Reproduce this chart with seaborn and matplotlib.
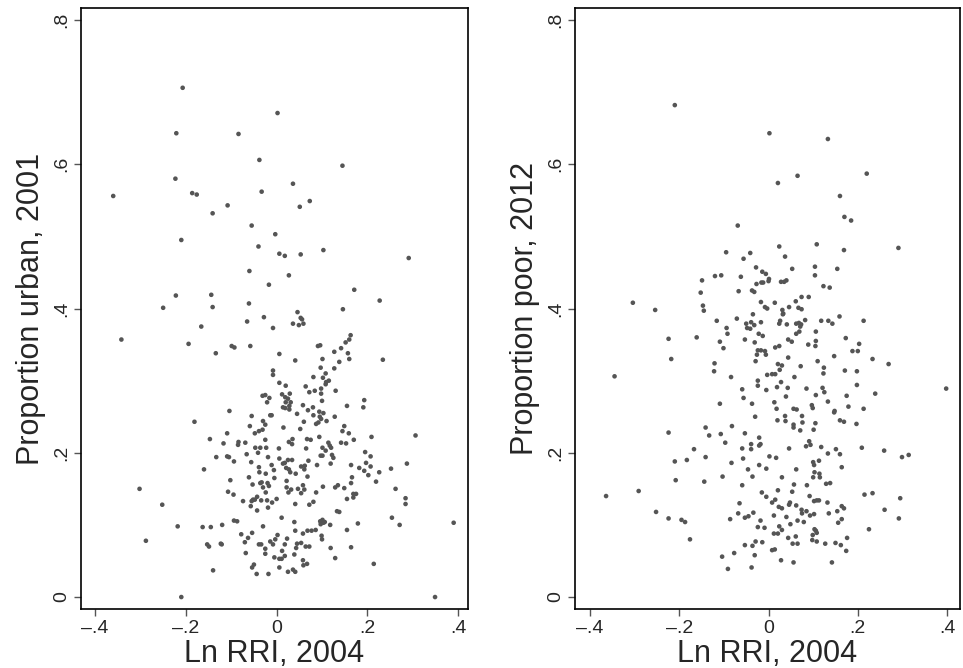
import matplotlib
matplotlib.use('Agg')
import matplotlib.pyplot as plt
import seaborn as sns
import pandas as pd

# (Ln RRI 2004, proportion urban 2001)
urban_pts = [
    (-0.207, 0.706), (0.002, 0.671), (-0.221, 0.643), (-0.084, 0.642), (-0.038, 0.606), (-0.223, 0.580),
    (-0.360, 0.556), (-0.186, 0.560), (-0.176, 0.558), (-0.033, 0.562), (-0.108, 0.543), (-0.141, 0.532),
    (-0.055, 0.515), (-0.003, 0.503), (-0.210, 0.495), (-0.040, 0.486), (0.006, 0.476), (-0.060, 0.452),
    (-0.017, 0.433), (-0.222, 0.418), (-0.144, 0.419), (-0.250, 0.401), (-0.141, 0.402), (-0.061, 0.407),
    (-0.028, 0.388), (-0.065, 0.382), (-0.008, 0.373), (-0.166, 0.375), (-0.342, 0.357),
    (0.145, 0.598), (0.036, 0.573), (0.073, 0.549), (0.051, 0.541), (0.018, 0.473), (0.053, 0.475),
    (0.103, 0.481), (0.291, 0.470), (0.027, 0.446), (0.171, 0.426), (0.227, 0.411), (0.146, 0.399),
    (0.046, 0.395), (0.053, 0.387), (0.056, 0.385), (0.036, 0.379), (0.049, 0.377), (0.059, 0.379),
    (0.163, 0.363), (0.160, 0.357),
    (-0.194, 0.351), (-0.134, 0.338), (-0.099, 0.348), (-0.093, 0.346), (-0.058, 0.348), (0.006, 0.337),
    (-0.008, 0.314), (-0.008, 0.308), (0.006, 0.297), (-0.031, 0.279), (-0.025, 0.280), (-0.016, 0.276),
    (-0.021, 0.270), (-0.104, 0.258), (-0.181, 0.243), (-0.055, 0.251), (-0.014, 0.252), (-0.011, 0.252),
    (-0.030, 0.244), (-0.025, 0.239), (-0.059, 0.237), (-0.039, 0.230), (-0.031, 0.232), (-0.048, 0.227),
    (-0.025, 0.218), (-0.147, 0.219), (-0.109, 0.227), (-0.117, 0.213), (-0.084, 0.215), (-0.085, 0.211),
    (-0.069, 0.214), (-0.047, 0.207), (-0.036, 0.207), (-0.023, 0.207), (0.005, 0.206), (-0.133, 0.194),
    (-0.109, 0.195), (-0.105, 0.194), (-0.094, 0.188), (-0.066, 0.198), (-0.041, 0.200), (-0.019, 0.194),
    (0.006, 0.192), (-0.056, 0.187), (-0.160, 0.177), (-0.039, 0.180), (-0.038, 0.173), (-0.011, 0.183),
    (-0.006, 0.176), (-0.024, 0.171), (-0.005, 0.165), (-0.061, 0.166), (-0.102, 0.162), (-0.053, 0.156),
    (-0.036, 0.158), (-0.033, 0.159), (-0.030, 0.152), (-0.020, 0.158), (-0.017, 0.154), (-0.302, 0.150),
    (-0.107, 0.146), (-0.095, 0.142), (-0.024, 0.145), (-0.252, 0.128), (-0.074, 0.133), (-0.055, 0.133),
    (-0.052, 0.135), (-0.048, 0.135), (-0.057, 0.126), (-0.043, 0.139), (-0.034, 0.134), (-0.021, 0.134),
    (-0.010, 0.131), (0.000, 0.136), (-0.019, 0.124), (-0.043, 0.120), (-0.218, 0.098), (-0.163, 0.097),
    (-0.145, 0.097), (-0.120, 0.100), (-0.094, 0.106), (-0.087, 0.105), (-0.030, 0.098), (-0.078, 0.087),
    (-0.054, 0.089), (-0.063, 0.082), (-0.070, 0.076), (0.002, 0.086), (-0.003, 0.080), (-0.288, 0.078),
    (-0.153, 0.073), (-0.149, 0.070), (-0.123, 0.074), (-0.121, 0.073), (-0.039, 0.073), (-0.034, 0.073),
    (-0.014, 0.077), (-0.008, 0.073), (-0.025, 0.067), (-0.025, 0.060), (-0.068, 0.061), (-0.005, 0.055),
    (0.006, 0.053), (-0.054, 0.041), (-0.050, 0.045), (0.006, 0.041), (-0.140, 0.037), (-0.044, 0.032),
    (-0.018, 0.032), (-0.210, 0.000),
    (0.152, 0.353), (0.142, 0.345), (0.096, 0.349), (0.091, 0.348), (0.127, 0.340), (0.157, 0.338),
    (0.160, 0.330), (0.041, 0.328), (0.101, 0.330), (0.138, 0.326), (0.234, 0.329), (0.097, 0.318),
    (0.127, 0.317), (0.108, 0.310), (0.102, 0.304), (0.081, 0.305), (0.115, 0.300), (0.109, 0.298),
    (0.108, 0.295), (0.020, 0.293), (0.064, 0.292), (0.098, 0.289), (0.130, 0.286), (0.072, 0.284),
    (0.084, 0.286), (0.098, 0.282), (0.012, 0.281), (0.029, 0.282), (0.019, 0.277), (0.025, 0.275),
    (0.031, 0.270), (0.020, 0.270), (0.100, 0.272), (0.193, 0.273), (0.191, 0.263), (0.058, 0.266),
    (0.014, 0.263), (0.019, 0.262), (0.028, 0.265), (0.028, 0.260), (0.069, 0.259), (0.080, 0.263),
    (0.094, 0.257), (0.103, 0.255), (0.155, 0.265), (0.045, 0.254), (0.081, 0.252), (0.095, 0.250),
    (0.098, 0.247), (0.092, 0.242), (0.087, 0.240), (0.110, 0.244), (0.128, 0.250), (0.060, 0.243),
    (0.015, 0.235), (0.052, 0.233), (0.149, 0.237), (0.145, 0.230), (0.159, 0.227), (0.209, 0.222),
    (0.306, 0.224), (0.094, 0.222), (0.067, 0.219), (0.075, 0.218), (0.035, 0.219), (0.027, 0.215),
    (0.034, 0.212), (0.142, 0.214), (0.153, 0.213), (0.170, 0.218), (0.114, 0.214), (0.117, 0.210),
    (0.120, 0.207), (0.108, 0.203), (0.101, 0.207), (0.101, 0.196), (0.097, 0.196), (0.065, 0.206),
    (0.122, 0.197), (0.125, 0.193), (0.119, 0.185), (0.014, 0.185), (0.018, 0.186), (0.025, 0.190),
    (0.034, 0.190), (0.070, 0.189), (0.195, 0.201), (0.207, 0.195), (0.089, 0.183), (0.164, 0.183),
    (0.182, 0.179), (0.193, 0.175), (0.197, 0.186), (0.207, 0.181), (0.202, 0.169), (0.226, 0.173),
    (0.252, 0.178), (0.287, 0.185), (0.021, 0.179), (0.027, 0.177), (0.030, 0.173), (0.042, 0.171),
    (0.054, 0.181), (0.062, 0.182), (0.061, 0.177), (0.068, 0.167), (0.166, 0.166), (0.164, 0.158),
    (0.219, 0.160), (0.022, 0.161), (0.022, 0.152), (0.026, 0.145), (0.032, 0.149), (0.047, 0.150),
    (0.058, 0.155), (0.054, 0.144), (0.061, 0.149), (0.102, 0.153), (0.129, 0.152), (0.135, 0.155),
    (0.149, 0.151), (0.087, 0.145), (0.169, 0.143), (0.175, 0.143), (0.169, 0.138), (0.155, 0.136),
    (0.262, 0.150), (0.284, 0.137), (0.284, 0.129), (0.041, 0.129), (0.072, 0.128), (0.081, 0.132),
    (0.133, 0.119), (0.138, 0.118), (0.011, 0.110), (0.039, 0.104), (0.096, 0.105), (0.101, 0.107),
    (0.103, 0.103), (0.097, 0.101), (0.106, 0.104), (0.118, 0.100), (0.179, 0.102), (0.254, 0.110),
    (0.271, 0.100), (0.390, 0.103), (0.041, 0.092), (0.058, 0.088), (0.068, 0.092), (0.077, 0.092),
    (0.086, 0.093), (0.155, 0.093), (0.099, 0.085), (0.100, 0.080), (0.023, 0.081), (0.018, 0.073),
    (0.012, 0.064), (0.018, 0.057), (0.011, 0.053), (0.045, 0.074), (0.054, 0.075), (0.043, 0.068),
    (0.064, 0.070), (0.072, 0.070), (0.119, 0.068), (0.164, 0.069), (0.039, 0.059), (0.058, 0.051),
    (0.059, 0.044), (0.067, 0.046), (0.129, 0.054), (0.214, 0.046), (0.025, 0.035), (0.036, 0.038),
    (0.041, 0.035), (0.349, 0.000),
]

# (Ln RRI 2004, proportion poor 2012)
poor_pts = [
    (-0.210, 0.682), (0.002, 0.643), (-0.069, 0.515), (-0.095, 0.478), (-0.041, 0.477), (-0.056, 0.469),
    (-0.028, 0.457), (-0.014, 0.451), (-0.006, 0.448), (0.001, 0.441), (-0.149, 0.439), (-0.120, 0.445),
    (-0.106, 0.446), (-0.062, 0.444), (-0.027, 0.434), (-0.016, 0.436), (-0.012, 0.436), (0.000, 0.438),
    (-0.152, 0.422), (-0.067, 0.424), (-0.037, 0.425), (-0.032, 0.423), (-0.304, 0.408), (-0.254, 0.398),
    (-0.147, 0.404), (-0.145, 0.397), (-0.017, 0.409), (-0.008, 0.402), (-0.003, 0.400), (-0.035, 0.392),
    (-0.116, 0.383), (-0.071, 0.386), (-0.050, 0.379), (-0.039, 0.381), (-0.032, 0.377), (-0.017, 0.381),
    (-0.094, 0.373), (-0.092, 0.365), (-0.048, 0.373), (-0.041, 0.372), (-0.022, 0.365), (-0.013, 0.362),
    (-0.224, 0.358), (-0.161, 0.360), (-0.053, 0.357),
    (0.133, 0.635), (0.065, 0.584), (0.021, 0.574), (0.220, 0.587), (0.160, 0.556), (0.170, 0.527),
    (0.185, 0.522), (0.024, 0.486), (0.108, 0.489), (0.169, 0.481), (0.291, 0.484), (0.037, 0.472),
    (0.053, 0.455), (0.104, 0.458), (0.104, 0.446), (0.154, 0.455), (0.028, 0.437), (0.035, 0.437),
    (0.040, 0.439), (0.123, 0.431), (0.137, 0.429), (0.061, 0.410), (0.074, 0.416), (0.090, 0.416),
    (0.014, 0.408), (0.046, 0.402), (0.031, 0.398), (0.033, 0.393), (0.032, 0.392), (0.067, 0.401),
    (0.074, 0.399), (0.159, 0.389), (0.026, 0.383), (0.024, 0.379), (0.041, 0.378), (0.062, 0.379),
    (0.068, 0.380), (0.073, 0.378), (0.071, 0.375), (0.082, 0.384), (0.118, 0.383), (0.134, 0.383),
    (0.143, 0.379), (0.213, 0.383), (0.106, 0.368), (0.069, 0.368), (0.062, 0.365), (0.044, 0.357),
    (0.173, 0.359),
    (-0.109, 0.354), (-0.101, 0.345), (-0.031, 0.353), (-0.024, 0.342), (-0.017, 0.342), (-0.008, 0.341),
    (-0.006, 0.336), (-0.026, 0.336), (-0.029, 0.327), (-0.218, 0.330), (-0.345, 0.306), (-0.121, 0.324),
    (-0.122, 0.313), (-0.084, 0.305), (-0.003, 0.308), (-0.024, 0.300), (-0.024, 0.293), (-0.005, 0.287),
    (-0.059, 0.288), (-0.056, 0.276), (-0.109, 0.268), (-0.037, 0.268), (-0.030, 0.250), (-0.082, 0.237),
    (-0.141, 0.235), (-0.133, 0.224), (-0.224, 0.228), (-0.107, 0.226), (-0.053, 0.227), (-0.097, 0.214),
    (-0.021, 0.221), (-0.039, 0.212), (-0.039, 0.205), (-0.018, 0.212), (-0.021, 0.210), (-0.059, 0.206),
    (-0.167, 0.205), (0.002, 0.195), (-0.210, 0.188), (-0.183, 0.190), (-0.141, 0.194), (-0.083, 0.186),
    (-0.057, 0.192), (-0.021, 0.183), (-0.005, 0.178), (-0.046, 0.177), (-0.036, 0.167), (-0.103, 0.167),
    (-0.208, 0.162), (-0.144, 0.160), (-0.059, 0.155), (-0.364, 0.140), (-0.291, 0.147), (-0.015, 0.145),
    (-0.005, 0.139), (-0.065, 0.130), (-0.252, 0.118), (-0.068, 0.116), (-0.034, 0.117), (-0.224, 0.109),
    (-0.195, 0.107), (-0.187, 0.104), (-0.086, 0.108), (-0.053, 0.110), (-0.045, 0.112), (-0.018, 0.106),
    (-0.024, 0.097), (-0.009, 0.096), (-0.176, 0.080), (-0.053, 0.072), (-0.036, 0.071), (-0.029, 0.077),
    (-0.014, 0.076), (-0.077, 0.061), (-0.031, 0.058), (-0.104, 0.056), (-0.091, 0.039), (-0.038, 0.041),
    (0.052, 0.354), (0.015, 0.346), (0.024, 0.348), (0.089, 0.350), (0.106, 0.355), (0.105, 0.348),
    (0.203, 0.351), (0.188, 0.341), (0.200, 0.341), (0.147, 0.334), (0.233, 0.330), (0.269, 0.323),
    (0.398, 0.289), (0.044, 0.332), (0.021, 0.323), (0.030, 0.321), (0.025, 0.315), (0.072, 0.320),
    (0.110, 0.327), (0.124, 0.318), (0.123, 0.310), (0.171, 0.314), (0.198, 0.313), (0.008, 0.309),
    (0.015, 0.309), (0.058, 0.305), (0.028, 0.298), (0.019, 0.291), (0.043, 0.290), (0.085, 0.289),
    (0.121, 0.290), (0.125, 0.284), (0.198, 0.294), (0.239, 0.282), (0.039, 0.278), (0.106, 0.280),
    (0.175, 0.279), (0.013, 0.270), (0.018, 0.261), (0.056, 0.261), (0.063, 0.260), (0.097, 0.266),
    (0.099, 0.262), (0.133, 0.271), (0.179, 0.264), (0.213, 0.261), (0.148, 0.258), (0.147, 0.256),
    (0.075, 0.251), (0.037, 0.251), (0.038, 0.244), (0.020, 0.245), (0.076, 0.242), (0.056, 0.239),
    (0.056, 0.235), (0.071, 0.231), (0.105, 0.241), (0.101, 0.232), (0.160, 0.245), (0.169, 0.243),
    (0.197, 0.240), (0.091, 0.216), (0.094, 0.211), (0.084, 0.209), (0.046, 0.206), (0.118, 0.208),
    (0.151, 0.205), (0.160, 0.198), (0.133, 0.199), (0.209, 0.207), (0.259, 0.203), (0.299, 0.194),
    (0.314, 0.197), (0.017, 0.193), (0.062, 0.177), (0.100, 0.187), (0.102, 0.183), (0.113, 0.189),
    (0.164, 0.180), (0.030, 0.166), (0.103, 0.173), (0.114, 0.171), (0.115, 0.166), (0.100, 0.166),
    (0.057, 0.156), (0.086, 0.155), (0.129, 0.157), (0.138, 0.158), (0.021, 0.148), (0.053, 0.146),
    (0.092, 0.140), (0.215, 0.142), (0.233, 0.144), (0.295, 0.137), (0.008, 0.131), (0.015, 0.135),
    (0.023, 0.125), (0.030, 0.123), (0.046, 0.128), (0.048, 0.131), (0.062, 0.127), (0.102, 0.133),
    (0.108, 0.134), (0.113, 0.134), (0.132, 0.131), (0.164, 0.126), (0.169, 0.123), (0.074, 0.121),
    (0.075, 0.116), (0.085, 0.119), (0.093, 0.113), (0.102, 0.115), (0.135, 0.116), (0.154, 0.119),
    (0.260, 0.121), (0.012, 0.113), (0.040, 0.111), (0.065, 0.106), (0.079, 0.104), (0.164, 0.108),
    (0.156, 0.103), (0.292, 0.109), (0.024, 0.098), (0.049, 0.101), (0.030, 0.093), (0.021, 0.088),
    (0.012, 0.088), (0.103, 0.094), (0.106, 0.092), (0.108, 0.089), (0.099, 0.086), (0.098, 0.079),
    (0.108, 0.077), (0.225, 0.094), (0.044, 0.082), (0.061, 0.084), (0.054, 0.074), (0.065, 0.074),
    (0.127, 0.074), (0.150, 0.075), (0.162, 0.072), (0.176, 0.082), (0.174, 0.064), (0.008, 0.065),
    (0.014, 0.066), (0.028, 0.051), (0.056, 0.048), (0.142, 0.048),
]

x_ticks = [-0.4, -0.2, 0, 0.2, 0.4]
x_tick_labels = ['\u2013.4', '\u2013.2', '0', '.2', '.4']
y_ticks = [0, 0.2, 0.4, 0.6, 0.8]
y_tick_labels = ['0', '.2', '.4', '.6', '.8']

df_urban = pd.DataFrame(urban_pts, columns=['rri', 'valor'])
df_poor = pd.DataFrame(poor_pts, columns=['rri', 'valor'])

sns.set_style('white')
plt.rcParams['font.family'] = ['Liberation Sans', 'DejaVu Sans']

fig = plt.figure(figsize=(9.63, 6.68), dpi=100)
ax1 = fig.add_axes([0.0841, 0.0883, 0.4016, 0.8997])
ax2 = fig.add_axes([0.5971, 0.0883, 0.3998, 0.8997])

paneles = [
    (ax1, df_urban, 'Proportion urban, 2001', (-0.431, 0.421)),
    (ax2, df_poor, 'Proportion poor, 2012', (-0.4336, 0.429)),
]

for ax, datos, etiqueta, xlim in paneles:
    sns.scatterplot(data=datos, x='rri', y='valor', ax=ax, color='#555555',
                    s=11, linewidth=0, edgecolor='none')
    ax.set_xlim(xlim)
    ax.set_ylim(-0.0166, 0.8166)
    ax.set_xticks(x_ticks)
    ax.set_xticklabels(x_tick_labels, fontsize=14)
    ax.set_yticks(y_ticks)
    ax.set_yticklabels(y_tick_labels, fontsize=14, rotation=90, va='center')
    ax.tick_params(axis='both', direction='out', length=5, width=1, color='#555555',
                   bottom=True, left=True, pad=3)
    ax.set_xlabel('Ln RRI, 2004', fontsize=22, labelpad=1)
    ax.set_ylabel(etiqueta, fontsize=22, labelpad=5)
    for lado in ax.spines.values():
        lado.set_visible(True)
        lado.set_color('black')
        lado.set_linewidth(1.2)

plt.savefig('out.png', dpi=100)
